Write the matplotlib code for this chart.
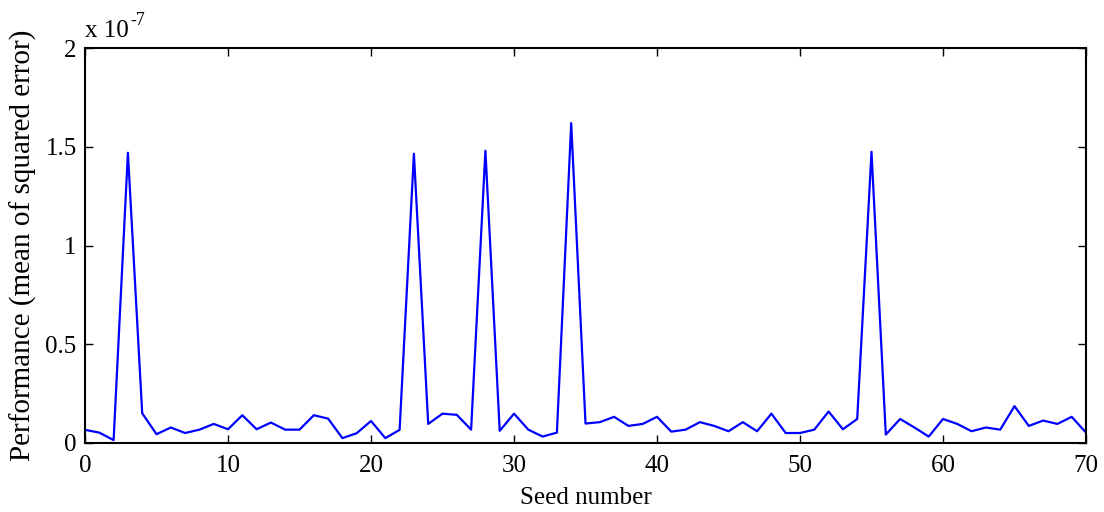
import matplotlib
matplotlib.use("Agg")
import matplotlib.pyplot as plt
import numpy as np

plt.rcParams['font.family'] = ['Liberation Serif', 'DejaVu Serif']

seeds = list(range(71))
# performance values in units of 1e-7
perf = [0.066, 0.052, 0.014, 1.47, 0.15, 0.044, 0.078, 0.05, 0.067, 0.096,
        0.069, 0.14, 0.069, 0.103, 0.067, 0.067, 0.14, 0.123, 0.024, 0.049,
        0.111, 0.024, 0.066, 1.465, 0.096, 0.148, 0.142, 0.067, 1.48, 0.061,
        0.148, 0.067, 0.032, 0.052, 1.62, 0.098, 0.105, 0.132, 0.086, 0.096,
        0.132, 0.057, 0.067, 0.105, 0.086, 0.059, 0.105, 0.059, 0.148, 0.05,
        0.05, 0.067, 0.159, 0.069, 0.121, 1.475, 0.042, 0.121, 0.078, 0.032,
        0.121, 0.096, 0.059, 0.078, 0.067, 0.186, 0.086, 0.113, 0.096, 0.132,
        0.052]
xticks = [0, 10, 20, 30, 40, 50, 60, 70]
yticks = [0, 0.5, 1, 1.5, 2]
ytick_labels = ['0', '0.5', '1', '1.5', '2']

W, H = 1104, 512
fig = plt.figure(figsize=(11.04, 5.12), dpi=100)
ax = fig.add_axes([0.077, 0.135, 0.9067, 0.771])
ax.plot(seeds, np.array(perf), color=(0, 0, 1), linewidth=1.6)
ax.set_xlim(0, 70)
ax.set_ylim(0, 2)
ax.set_xticks(xticks)
ax.set_yticks(yticks)
ax.set_yticklabels(ytick_labels)
ax.tick_params(direction='in', top=True, right=True, labelsize=18, length=6, width=1)
ax.tick_params(axis='x', pad=9)
ax.tick_params(axis='y', pad=6)
for s in ax.spines.values():
    s.set_linewidth(1.5)
ax.set_xlabel('Seed number', fontsize=18, labelpad=7)
ax.set_ylabel('Performance (mean of squared error)', fontsize=21, labelpad=6)
fig.text(85 / W, 1 - 37 / H, 'x 10', fontsize=18, ha='left', va='baseline')
fig.text(130 / W, 1 - 25 / H, '-7', fontsize=13, ha='left', va='baseline')
fig.savefig('out.png', dpi=100)
